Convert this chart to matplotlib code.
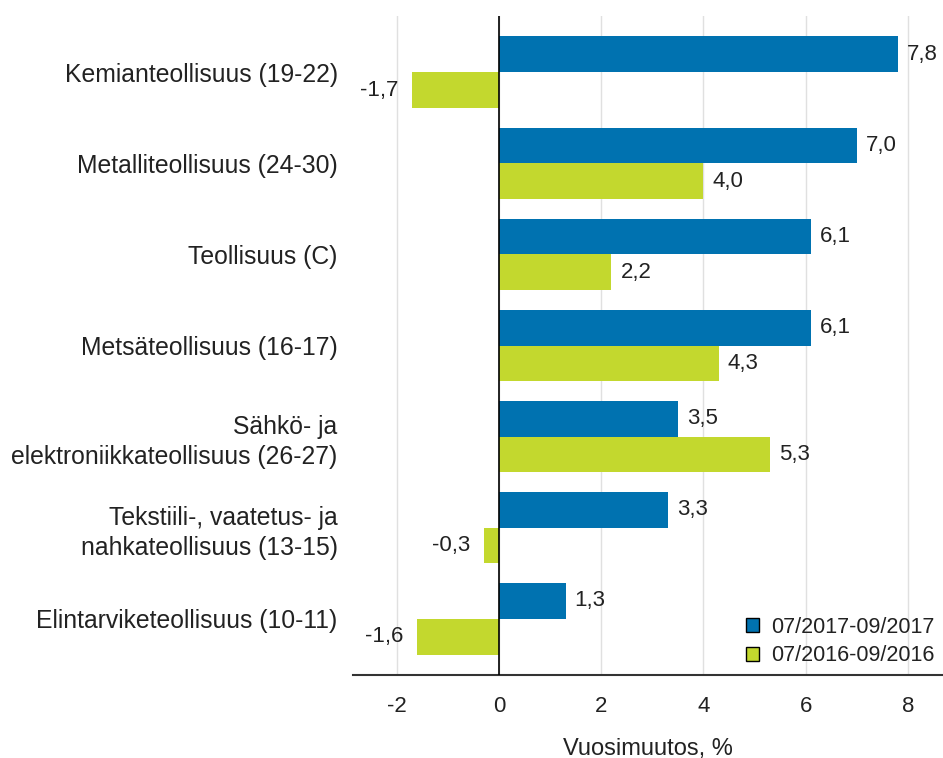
import matplotlib
matplotlib.use("Agg")
import matplotlib.pyplot as plt
from matplotlib.patches import Patch

categories = [
    "Kemianteollisuus (19-22)",
    "Metalliteollisuus (24-30)",
    "Teollisuus (C)",
    "Metsäteollisuus (16-17)",
    "Sähkö- ja\nelektroniikkateollisuus (26-27)",
    "Tekstiili-, vaatetus- ja\nnahkateollisuus (13-15)",
    "Elintarviketeollisuus (10-11)",
]
series_2017 = [7.8, 7.0, 6.1, 6.1, 3.5, 3.3, 1.3]
series_2016 = [-1.7, 4.0, 2.2, 4.3, 5.3, -0.3, -1.6]
series_names = ["07/2017-09/2017", "07/2016-09/2016"]
xticks = [-2, 0, 2, 4, 6, 8]
xlabel = "Vuosimuutos, %"

plt.rcParams['font.family'] = ['Liberation Sans', 'DejaVu Sans']

blue = '#0072b0'
green = '#c3d82e'
txt = '#222222'

fig = plt.figure(figsize=(9.43, 7.58), dpi=100)
ax = fig.add_axes([353/943, 1-675/758, 1-353/943, (675-16)/758])

h = 0.395
ypos = list(range(len(categories)))
y1 = [y - h/2 for y in ypos]
y2 = [y + h/2 for y in ypos]
ax.barh(y1, series_2017, height=h, color=blue, zorder=3)
ax.barh(y2, series_2016, height=h, color=green, zorder=3)

def fmt(v):
    return f"{v:.1f}".replace('.', ',')

for ys, vals in ((y1, series_2017), (y2, series_2016)):
    for y, v in zip(ys, vals):
        if v >= 0:
            ax.annotate(fmt(v), (v, y), xytext=(6.5, 0), textcoords='offset points',
                        ha='left', va='center', fontsize=16, color=txt)
        else:
            ax.annotate(fmt(v), (v, y), xytext=(-10, 0), textcoords='offset points',
                        ha='right', va='center', fontsize=16, color=txt)

ax.set_xlim(-2.86, 8.69)
ax.set_ylim(6.62, -0.62)
ax.set_xticks(xticks)
ax.set_xticklabels([str(t) for t in xticks], fontsize=16, color=txt)
ax.set_yticks(ypos)
ax.set_yticklabels(categories, fontsize=17.8, color=txt, linespacing=1.3)
ax.tick_params(axis='y', length=0, pad=11)
ax.tick_params(axis='x', length=0, pad=15)
ax.grid(axis='x', color='#e0e0e0', linewidth=1, zorder=0)
ax.axvline(0, color='black', linewidth=1.2, zorder=4)
for s in ('top', 'right', 'left'):
    ax.spines[s].set_visible(False)
ax.spines['bottom'].set_color('#333333')
ax.spines['bottom'].set_linewidth(1.5)
ax.set_xlabel(xlabel, fontsize=17, color=txt, labelpad=15)

handles = [Patch(facecolor=blue, edgecolor='black', linewidth=1),
           Patch(facecolor=green, edgecolor='black', linewidth=1)]
ax.legend(handles, series_names, loc='lower right', frameon=False, fontsize=15.5,
          handlelength=0.6, handleheight=0.6, handletextpad=0.55, labelspacing=0.36,
          borderaxespad=0.0, labelcolor=txt)

fig.savefig('out.png', dpi=100)
